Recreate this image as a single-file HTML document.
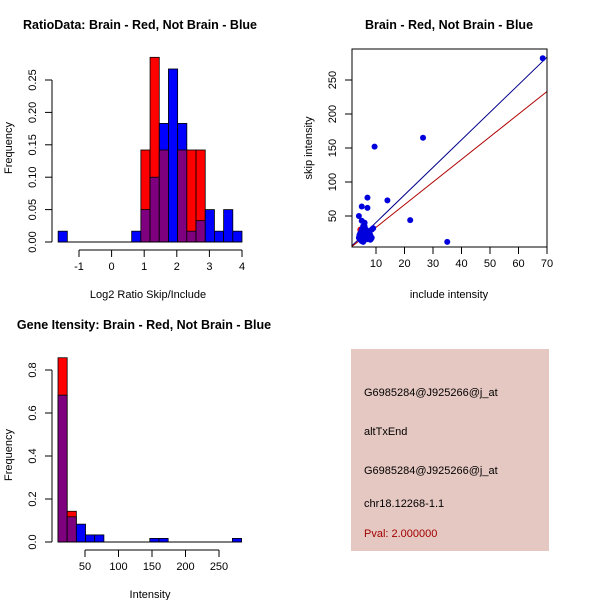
<!DOCTYPE html>
<html><head><meta charset="utf-8"><style>
body{margin:0;background:#fff}svg{display:block}
text{font-family:"Liberation Sans",sans-serif;font-size:11px;fill:#000}
.t{font-weight:bold;font-size:12.5px}
</style></head><body>
<svg id="s" width="600" height="600" xmlns="http://www.w3.org/2000/svg">
<rect width="600" height="600" fill="#fff"/>
<text class="t" x="140" y="29" text-anchor="middle">RatioData: Brain - Red, Not Brain - Blue</text>
<text x="148" y="298" text-anchor="middle">Log2 Ratio Skip/Include</text>
<text x="12" y="148" text-anchor="middle" transform="rotate(-90 12 148)">Frequency</text>
<text class="t" x="449" y="29" text-anchor="middle">Brain - Red, Not Brain - Blue</text>
<text x="449" y="298" text-anchor="middle">include intensity</text>
<text x="312" y="148" text-anchor="middle" transform="rotate(-90 312 148)">skip intensity</text>
<text class="t" x="144" y="329" text-anchor="middle">Gene Itensity: Brain - Red, Not Brain - Blue</text>
<text x="150" y="598" text-anchor="middle">Intensity</text>
<text x="12" y="455" text-anchor="middle" transform="rotate(-90 12 455)">Frequency</text>
<g>
<rect x="351" y="349" width="198" height="202" fill="#e6c8c2"/>
<text x="364" y="396">G6985284@J925266@j_at</text>
<text x="364" y="435">altTxEnd</text>
<text x="364" y="474">G6985284@J925266@j_at</text>
<text x="364" y="507">chr18.12268-1.1</text>
<text x="364" y="537" style="fill:#a00000">Pval: 2.000000</text>
</g>
</svg>
<script>
// Ratio histogram data
const ratioBinStart = -1.64, ratioBinWidth = 0.282;
const ratioBlue = [0.0167,0,0,0,0,0,0,0,0.0167,0.05,0.1,0.183,0.267,0.183,0.0167,0.033,0.05,0.0167,0.05,0.0167];
const ratioRed  = [0,0,0,0,0,0,0,0,0,0.142,0.285,0.142,0,0.142,0.142,0.142,0,0,0,0];
const ratioXTicks = [-1,0,1,2,3,4];
const ratioYTicks = ["0.00","0.05","0.10","0.15","0.20","0.25"];
// Intensity histogram data
const intBinStart = 9.7, intBinWidth = 13.7;
const intBlue = [0.683,0.117,0.083,0.033,0.033,0,0,0,0,0,0.0167,0.0167,0,0,0,0,0,0,0,0.0167];
const intRed  = [0.857,0.143,0,0,0,0,0,0,0,0,0,0,0,0,0,0,0,0,0,0];
const intXTicks = [50,100,150,200,250];
const intYTicks = ["0.0","0.2","0.4","0.6","0.8"];
// Scatter data
const scBlueX = [68.5,26.5,9.5,14,22,35,7,7,5,4,5,6,5.5,6,6.5,7,7.5,8,8.5,4.5,5,5.5,6,6.5,7,4,4.5,5,5.5,6,6.5,7,8,8.5,5,6,7,5.5,4.5,6,8.2,4.2,5.2,6.2,7.2,4.8,5.8,6.8,7.8,9];
const scBlueY = [282,165,152,73,44,12,77,62,64,50,43,40,35,33,30,28,25,22,30,25,22,20,18,17,20,18,15,13,28,25,22,16,15,18,30,35,18,12,20,24,16,22,26,30,24,19,14,27,20,32];
const scRedX = [4.5];
const scRedY = [30];
const scBlueSlope = 4.05, scRedSlope = 3.33;
const scXTicks = [10,20,30,40,50,60,70];
const scYTicks = [50,100,150,200,250];

const NS="http://www.w3.org/2000/svg", svg=document.getElementById('s');
function mk(tag,attrs,parent){const e=document.createElementNS(NS,tag);for(const k in attrs)e.setAttribute(k,attrs[k]);(parent||svg).appendChild(e);return e;}
function txt(x,y,s,anchor,rot,parent){const e=mk('text',{x:x,y:y,'text-anchor':anchor||'middle'},parent);if(rot)e.setAttribute('transform','rotate(-90 '+x+' '+y+')');e.textContent=s;return e;}

function hist(name,binStart,binW,red,blue,xOf,yOf){
  const g=mk('g',{});
  
  
  for(let i=0;i<blue.length;i++){
    const a=xOf(binStart+i*binW), b=xOf(binStart+(i+1)*binW);
    const r=red[i], bl=blue[i], lo=Math.min(r,bl), hi=Math.max(r,bl);
    if(hi<=0) continue;
    const top=mk('rect',{x:a,y:yOf(hi),width:b-a,height:yOf(0)-yOf(hi),fill:r>bl?'#ff0000':'#0000ff',stroke:'#000','stroke-width':0.8},g);
    
    
    if(lo>0){
      const p=mk('rect',{x:a,y:yOf(lo),width:b-a,height:yOf(0)-yOf(lo),fill:'#7f007f',stroke:'#000','stroke-width':0.8},g);
      
      
    }
  }
}
function yAxis(name,x,ticks,yOf,vals){
  const g=mk('g',{stroke:'#000'});
  
  
  mk('line',{x1:x,x2:x,y1:yOf(vals[0]),y2:yOf(vals[vals.length-1])},g);
  ticks.forEach((t,i)=>{const y=yOf(vals[i]);mk('line',{x1:x-7,x2:x,y1:y,y2:y},g);txt(x-16,y,t,'middle',true);});
}
function xAxis(name,y,ticks,xOf){
  const g=mk('g',{stroke:'#000'});
  
  
  mk('line',{x1:xOf(ticks[0]),x2:xOf(ticks[ticks.length-1]),y1:y,y2:y},g);
  ticks.forEach(t=>{mk('line',{x1:xOf(t),x2:xOf(t),y1:y,y2:y+7},g);txt(xOf(t),y+20,String(t));});
}

// Ratio histogram
const rX=v=>79+(v+1)*32.6, rY=v=>242-v*648;
hist('ratio',ratioBinStart,ratioBinWidth,ratioRed,ratioBlue,rX,rY);
mk('line',{x1:rX(ratioBinStart),x2:rX(ratioBinStart+20*ratioBinWidth),y1:rY(0),y2:rY(0),stroke:'#000'});
yAxis('ratio-y-axis',52,ratioYTicks,rY,ratioYTicks.map(Number));
xAxis('ratio-x-axis',250,ratioXTicks,rX);

// Intensity histogram
const iX=v=>85+(v-50)*0.67, iY=v=>542-v*215;
hist('intensity',intBinStart,intBinWidth,intRed,intBlue,iX,iY);
mk('line',{x1:iX(intBinStart),x2:iX(intBinStart+20*intBinWidth),y1:iY(0),y2:iY(0),stroke:'#000'});
yAxis('intensity-y-axis',52,intYTicks,iY,intYTicks.map(Number));
xAxis('intensity-x-axis',550,intXTicks,iX);

// Scatter
const sX=v=>376+(v-10)*2.85, sY=v=>216-(v-50)*0.68;
const L=352,R=547,T=49,B=247;
mk('clipPath',{id:'cp'});
mk('rect',{x:L,y:T,width:R-L,height:B-T},document.getElementById('cp'));
const lg=mk('g',{'clip-path':'url(#cp)'});


const xa=(L-376)/2.85+10, xb=(R-376)/2.85+10;
const bl=mk('line',{x1:sX(xa),y1:sY(scBlueSlope*xa),x2:sX(xb),y2:sY(scBlueSlope*xb),stroke:'#00008b','stroke-width':1},lg);


const rl=mk('line',{x1:sX(xa),y1:sY(scRedSlope*xa),x2:sX(xb),y2:sY(scRedSlope*xb),stroke:'#b00000','stroke-width':1},lg);


const pg=mk('g',{});


scRedX.forEach((x,i)=>{const c=mk('circle',{cx:sX(x),cy:sY(scRedY[i]),r:3,fill:'#ee0000'},pg);});
scBlueX.forEach((x,i)=>{const c=mk('circle',{cx:sX(x),cy:sY(scBlueY[i]),r:3,fill:'#0000dd'},pg);});
const box=mk('rect',{x:L,y:T,width:R-L,height:B-T,fill:'none',stroke:'#000'});


const sxg=mk('g',{stroke:'#000'});


scXTicks.forEach(t=>{mk('line',{x1:sX(t),x2:sX(t),y1:B,y2:B+7},sxg);txt(sX(t),B+20,String(t));});
const syg=mk('g',{stroke:'#000'});


scYTicks.forEach(t=>{mk('line',{x1:L-7,x2:L,y1:sY(t),y2:sY(t)},syg);txt(L-16,sY(t),String(t),'middle',true);});
</script>
</body></html>
